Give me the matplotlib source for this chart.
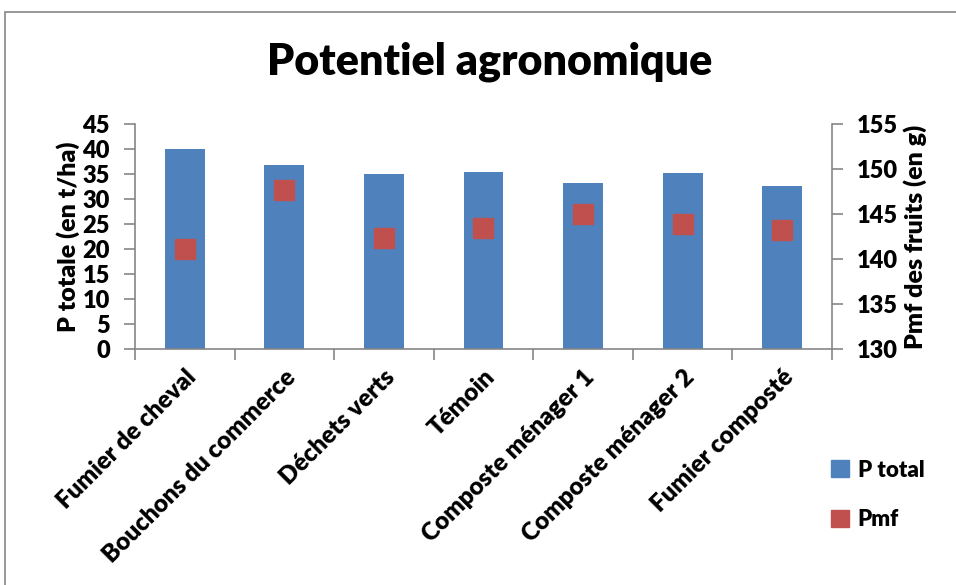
import matplotlib.pyplot as plt
from matplotlib.patches import Rectangle

# Données
categories = ['Fumier de cheval', 'Bouchons du commerce', 'Déchets verts', 'Témoin',
              'Composte ménager 1', 'Composte ménager 2', 'Fumier composté']
p_total = [40.0, 36.7, 34.9, 35.3, 33.1, 35.1, 32.5]
pmf = [141.1, 147.7, 142.3, 143.4, 145.0, 143.9, 143.2]

blue = '#4F81BD'
red = '#C0504D'
grey = '#868686'
W = 'heavy'

plt.rcParams['font.family'] = ['Lato', 'DejaVu Sans']
plt.rcParams['font.weight'] = W

fig = plt.figure(figsize=(9.56, 5.85), dpi=100)
ax = fig.add_axes([135 / 956, 1 - 349 / 585, (832 - 135) / 956, (349 - 124) / 585])
ax2 = ax.twinx()

x = list(range(len(categories)))
ax.bar(x, p_total, width=0.4, color=blue, zorder=2)
ax2.plot(x, pmf, linestyle='none', marker='s', markersize=14, color=red,
         markeredgecolor=red, zorder=3)

ax.set_xlim(-0.5, len(categories) - 0.5)
ax.set_ylim(0, 45)
ax.set_yticks(range(0, 46, 5))
ax2.set_ylim(130, 155)
ax2.set_yticks(range(130, 156, 5))

# Graduations entre les catégories
ax.set_xticks([i - 0.5 for i in range(len(categories) + 1)], minor=True)
ax.set_xticks(x)
ax.set_xticklabels(categories, rotation=45, ha='right', rotation_mode='anchor',
                   fontsize=17.5, fontweight=W)
ax.tick_params(axis='x', which='major', length=0, pad=12)
ax.tick_params(axis='x', which='minor', length=8, color=grey, width=1.2)

for a in (ax, ax2):
    for s in a.spines.values():
        s.set_visible(False)
ax.spines['left'].set_visible(True)
ax.spines['bottom'].set_visible(True)
ax2.spines['right'].set_visible(True)
for s in (ax.spines['left'], ax.spines['bottom'], ax2.spines['right']):
    s.set_color(grey)
    s.set_linewidth(1.2)

ax.tick_params(axis='y', length=8, color=grey, width=1.2, labelsize=17, pad=10)
ax2.tick_params(axis='y', length=8, color=grey, width=1.2, labelsize=17, pad=10)
for lab in ax.get_yticklabels() + ax2.get_yticklabels():
    lab.set_fontweight(W)

ax.set_ylabel('P totale (en t/ha)', fontsize=18, fontweight=W, labelpad=2)
ax2.set_ylabel('Pmf des fruits (en g)', fontsize=18, fontweight=W, labelpad=4)

fig.text(490 / 956, 1 - 62 / 585, 'Potentiel agronomique', ha='center', va='center',
         fontsize=31, fontweight=W)

handles = [Rectangle((0, 0), 1, 1, color=blue), Rectangle((0, 0), 1, 1, color=red)]
fig.legend(handles, ['P total', 'Pmf'], loc='center left',
           bbox_to_anchor=(811 / 956, 1 - 495 / 585), frameon=False,
           prop={'size': 16, 'weight': W}, handlelength=0.8, handleheight=0.8,
           handletextpad=0.4, labelspacing=1.3)

# Cadre du graphique
fig.patches.append(Rectangle((5 / 956, -0.01), 1.0, 1 - 12 / 585 + 0.01,
                             transform=fig.transFigure, fill=False,
                             edgecolor=grey, linewidth=1.2))

fig.savefig('out.png', dpi=100)
